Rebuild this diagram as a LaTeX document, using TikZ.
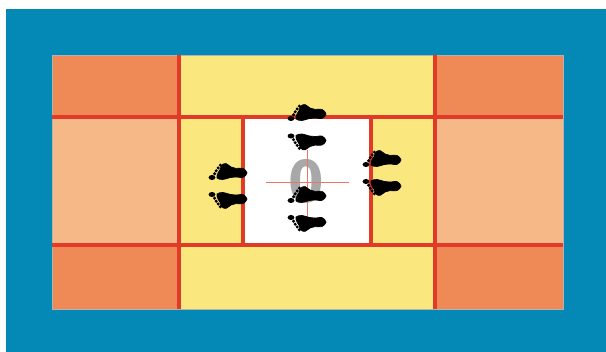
\documentclass[tikz,border=0pt]{standalone}
\usepackage{fontspec}
\setmainfont{Liberation Sans}
\newfontfamily\digitfont{DejaVu Sans}

\definecolor{poolblue}{HTML}{0489B7}
\definecolor{cornerorange}{HTML}{EF8A57}
\definecolor{sideorange}{HTML}{F6B887}
\definecolor{laneyellow}{HTML}{FAE77D}
\definecolor{linered}{HTML}{E23A29}
\definecolor{digitgray}{HTML}{A8A8A8}

\tikzset{
  redline/.style={draw=linered, line width=3.2pt},
  thinline/.style={draw=linered!70, line width=0.9pt},
  pics/footprint/.style={code={
    \filldraw[black, line width=0.7pt] plot[smooth cycle, tension=0.6] coordinates {(-11,-6) (-5,-7.5) (2,-5.6) (9,-5) (15,-5.4) (19,-1) (15,3.6) (8,3.6) (3,5) (-2,8.4) (-6,7) (-8,2.4) (-10,-1)};
    \fill[black] (-16,-5.5) ellipse (3.4 and 2.5);
    \foreach \tx/\ty in {-13.4/-1.8, -11.8/1.2, -9.8/4, -7.6/6.8} {
      \fill[black] (\tx,\ty) circle (1.7);
    }
  }}
}

\begin{document}
\begin{tikzpicture}[x=1pt, y=-1pt]
\useasboundingbox (0,0) rectangle (606,352);

% ── Background ──
\fill[poolblue] (6,9) rectangle (606,352);

% ── Field zones ──
\fill[laneyellow] (179,55) rectangle (435,309);
\foreach \xa/\xb in {52/179, 435/563} {
    \fill[cornerorange] (\xa,55) rectangle (\xb,117);
    \fill[sideorange] (\xa,117) rectangle (\xb,245);
    \fill[cornerorange] (\xa,245) rectangle (\xb,309);
}
\fill[white] (243,117) rectangle (371,245);
\draw[gray!60, line width=0.6pt] (52,55) rectangle (563,309);

% ── Zero and thin cross ──
\node[font=\digitfont\fontsize{58}{58}\selectfont\bfseries, text=digitgray, inner sep=0pt, xscale=0.88] (digit) at (306,181.5) {0};
\draw[thinline] (266,182) -- (349,182);
\draw[thinline] (307,150) -- (307,222);

% ── Red lines ──
\foreach \x in {179, 435} {
    \draw[redline] (\x,55) -- (\x,309);
}
\foreach \y in {117, 245} {
    \draw[redline] (52,\y) -- (563,\y);
}
\foreach \x in {243, 371} {
    \draw[redline] (\x,117) -- (\x,245);
}

% ── Footprints, big toe up ──
\foreach \x/\y in {307/141.5, 307/223, 228/200, 382/187} {
    \pic at (\x,\y) {footprint};
}
% big toe down
\foreach \x/\y in {307/113, 307/195, 228/172, 382/159} {
    \pic[yscale=-1] at (\x,\y) {footprint};
}

\end{tikzpicture}
\end{document}
